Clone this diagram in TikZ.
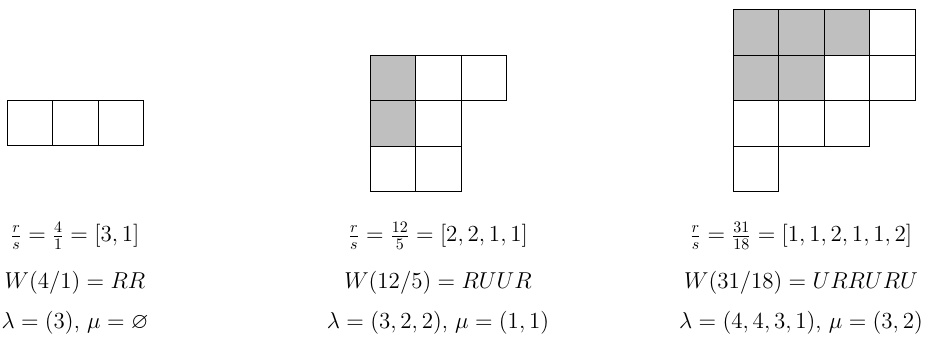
\documentclass[tikz,border=0pt]{standalone}
\usepackage{amsmath,amssymb}
\definecolor{shadegray}{RGB}{191,191,191}
\begin{document}
\begin{tikzpicture}[x=0.022cm,y=-0.022cm,
  cell/.style={draw=black, line width=0.6pt},
  shaded/.style={cell, fill=shadegray},
  lab/.style={font=\fontsize{14}{16}\selectfont, inner sep=0pt, anchor=base}]
\useasboundingbox (0,0) rectangle (927,342);
\def\cw{45.5}
% diagram 1
\foreach \c in {0,1,2} \draw[cell] (7+\c*\cw,100) rectangle ++(\cw,\cw);
% diagram 2
\foreach \r/\c/\s in {0/0/shaded,0/1/cell,0/2/cell,1/0/shaded,1/1/cell,2/0/cell,2/1/cell}
  \draw[\s] (370+\c*\cw,55+\r*\cw) rectangle ++(\cw,\cw);
% diagram 3
\foreach \r/\c/\s in {0/0/shaded,0/1/shaded,0/2/shaded,0/3/cell,1/0/shaded,1/1/shaded,1/2/cell,1/3/cell,2/0/cell,2/1/cell,2/2/cell,3/0/cell}
  \draw[\s] (733+\c*\cw,9.5+\r*\cw) rectangle ++(\cw,\cw);
% labels
\node[lab] (a1) at (75,242) {$\tfrac{r}{s}=\tfrac{4}{1}=[3,1]$};
\node[lab] (a2) at (75,289) {$W(4/1)=RR$};
\node[lab] (a3) at (75,329) {$\lambda=(3)$, $\mu=\varnothing$};
\node[lab] (b1) at (438,242) {$\tfrac{r}{s}=\tfrac{12}{5}=[2,2,1,1]$};
\node[lab] (b2) at (438,289) {$W(12/5)=RUUR$};
\node[lab] (b3) at (438,329) {$\lambda=(3,2,2)$, $\mu=(1,1)$};
\node[lab] (c1) at (801,242) {$\tfrac{r}{s}=\tfrac{31}{18}=[1,1,2,1,1,2]$};
\node[lab] (c2) at (801,289) {$W(31/18)=URRURU$};
\node[lab] (c3) at (801,329) {$\lambda=(4,4,3,1)$, $\mu=(3,2)$};
\end{tikzpicture}
\end{document}
